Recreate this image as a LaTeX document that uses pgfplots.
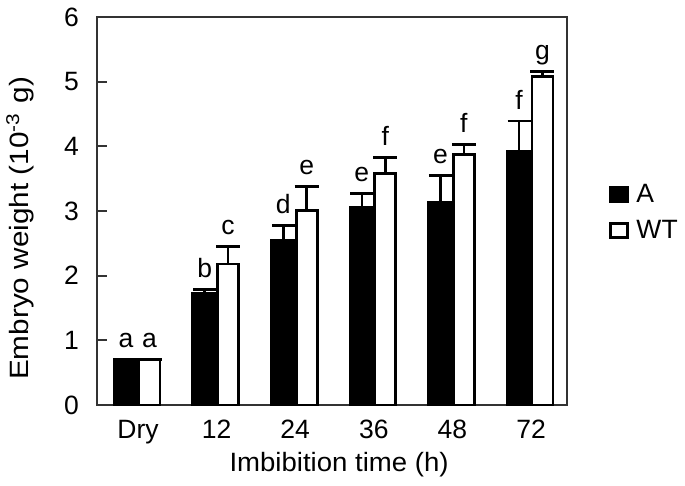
\documentclass[border=0pt]{standalone}
\usepackage{fontspec}
\setmainfont{Liberation Sans}
\usepackage{graphicx}
\usepackage{pgfplots}
\pgfplotsset{compat=1.18}
\usepackage{pgfplotstable}
\newcommand{\bigf}{\fontsize{26.5bp}{31bp}\selectfont}

\pgfplotstableread{
x A Aerr Acap WT WTerr WTcap la lw
0 0.70 0.00 0.70 0.70 0.00 0.70 a a
1 1.72 0.07 1.79 2.18 0.27 2.45 b c
2 2.55 0.23 2.78 3.01 0.37 3.38 d e
3 3.06 0.21 3.27 3.58 0.25 3.83 e f
4 3.14 0.41 3.55 3.87 0.16 4.03 e f
5 3.92 0.47 4.39 5.08 0.08 5.16 f g
}\data

\begin{document}
\begin{tikzpicture}
\useasboundingbox (-97bp,-81bp) rectangle (588bp,405bp);
\begin{axis}[
  at={(0,0)}, anchor=south west,
  scale only axis, width=470bp, height=388bp,
  xmin=-0.522, xmax=5.458, ymin=0, ymax=6,
  xtick={0,...,5}, xticklabels={Dry,12,24,36,48,72},
  x tick style={draw=none},
  ytick={0,...,6}, ytick pos=left, tick align=inside,
  major tick length=10bp,
  axis line style={line width=1.8bp, black!80},
  y tick style={line width=1.8bp, black!80},
  /pgf/number format/assume math mode=true,
  tick label style={font=\bigf},
  yticklabel style={inner sep=0pt, xshift=-18bp},
  xticklabel style={inner sep=0pt, yshift=-15bp},
  label style={font=\bigf},
  xlabel={\scalebox{1.04}[1]{Imbibition time (h)}},
  ylabel={\scalebox{1.12}[1]{Embryo weight (10\textsuperscript{-3}\,\,g)}},
  xlabel style={at={(axis description cs:0.515,-0.155)}, anchor=center},
  ylabel style={at={(axis description cs:-0.164,0.455)}, anchor=center},
  legend style={draw=none, fill=none, font=\bigf, at={(axis description cs:1.09,0.497)}, anchor=west, inner sep=0pt, row sep=12bp, nodes={inner sep=2bp},
    /tikz/every odd column/.append style={column sep=5bp}},
  legend cell align=left,
]
\addplot[ybar, bar shift=0pt, bar width=24bp, fill=black, draw=black, line width=2.7bp,
  legend image code/.code={\draw[line width=3bp, draw=black, fill=black] (0bp,-7bp) rectangle (17bp,7bp);},
  error bars/.cd, y dir=plus, y explicit,
  error bar style={line width=2.7bp, black},
  error mark options={rotate=90, mark size=11.5bp, line width=2.7bp, black}]
  table[x expr=\thisrow{x}-0.152, y=A, y error=Aerr]{\data};
\addlegendentry{A}
\addplot[ybar, bar shift=0pt, bar width=21bp, fill=white, draw=black, line width=2.7bp,
  legend image code/.code={\draw[line width=3bp, draw=black, fill=white] (0bp,-7bp) rectangle (17bp,7bp);},
  error bars/.cd, y dir=plus, y explicit,
  error bar style={line width=2.7bp, black},
  error mark options={rotate=90, mark size=12bp, line width=2.7bp, black}]
  table[x expr=\thisrow{x}+0.146, y=WT, y error=WTerr]{\data};
\addlegendentry{WT}
\addplot[draw=none, forget plot, nodes near coords, point meta=explicit symbolic,
  nodes near coords style={anchor=base, inner sep=0pt, yshift=12bp, font=\bigf, text=black}]
  table[x expr=\thisrow{x}-0.152, y=Acap, meta=la]{\data};
\addplot[draw=none, forget plot, nodes near coords, point meta=explicit symbolic,
  nodes near coords style={anchor=base, inner sep=0pt, yshift=12bp, font=\bigf, text=black}]
  table[x expr=\thisrow{x}+0.146, y=WTcap, meta=lw]{\data};
\end{axis}
\end{tikzpicture}
\end{document}
